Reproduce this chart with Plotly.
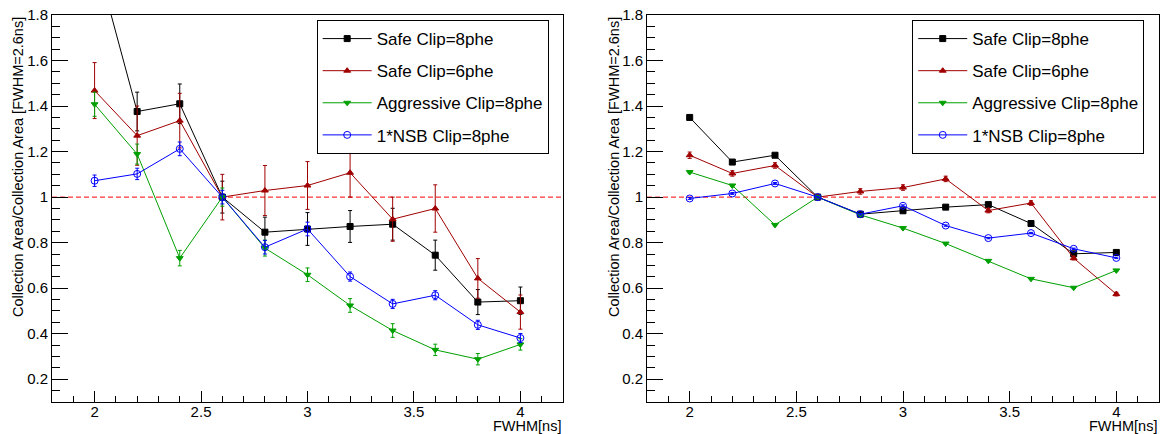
import plotly.graph_objects as go

fwhm = [2.0, 2.2, 2.4, 2.6, 2.8, 3.0, 3.2, 3.4, 3.6, 3.8, 4.0]
names = ["Safe Clip=8phe", "Safe Clip=6phe", "Aggressive Clip=8phe", "1*NSB Clip=8phe"]

# Left panel
left_safe8 = [2.07, 1.376, 1.41, 1.0, 0.846, 0.86, 0.871, 0.881, 0.745, 0.539, 0.545]
left_safe8_err = [0.10, 0.085, 0.087, 0.07, 0.066, 0.072, 0.07, 0.07, 0.066, 0.055, 0.06]
left_safe6 = [1.468, 1.27, 1.336, 1.0, 1.029, 1.051, 1.107, 0.903, 0.95, 0.643, 0.495]
left_safe6_err = [0.123, 0.13, 0.12, 0.10, 0.11, 0.105, 0.107, 0.097, 0.104, 0.087, 0.075]
left_aggr8 = [1.408, 1.189, 0.732, 1.0, 0.776, 0.659, 0.524, 0.414, 0.329, 0.288, 0.353]
left_aggr8_err = [0.053, 0.044, 0.034, 0.04, 0.035, 0.03, 0.03, 0.03, 0.025, 0.025, 0.025]
left_nsb8 = [1.072, 1.102, 1.212, 1.0, 0.78, 0.86, 0.651, 0.531, 0.569, 0.439, 0.381]
left_nsb8_err = [0.025, 0.025, 0.03, 0.03, 0.03, 0.03, 0.02, 0.02, 0.02, 0.02, 0.02]

# Right panel
right_safe8 = [1.35, 1.154, 1.184, 1.0, 0.925, 0.94, 0.956, 0.967, 0.884, 0.751, 0.757]
right_safe8_err = [0.008, 0.006, 0.006, 0.005, 0.005, 0.005, 0.005, 0.005, 0.005, 0.005, 0.005]
right_safe6 = [1.184, 1.104, 1.139, 1.0, 1.025, 1.042, 1.08, 0.941, 0.974, 0.732, 0.574]
right_safe6_err = [0.014, 0.012, 0.012, 0.01, 0.012, 0.012, 0.012, 0.01, 0.01, 0.008, 0.008]
right_aggr8 = [1.11, 1.051, 0.878, 1.0, 0.922, 0.864, 0.796, 0.72, 0.641, 0.602, 0.678]
right_aggr8_err = [0.005, 0.005, 0.004, 0.004, 0.004, 0.004, 0.004, 0.003, 0.003, 0.003, 0.003]
right_nsb8 = [0.994, 1.016, 1.06, 1.0, 0.925, 0.962, 0.875, 0.82, 0.842, 0.773, 0.733]
right_nsb8_err = [0.004, 0.004, 0.004, 0.004, 0.004, 0.004, 0.003, 0.003, 0.003, 0.003, 0.003]

colors = ["#000000", "#a00000", "#00a000", "#0000ff"]
symbols = ["square", "triangle-up", "triangle-down", "circle-open"]
msizes = [6, 6, 6, 7]

FONT = "Liberation Sans, Arial, Helvetica, sans-serif"

fig = go.Figure()

left_sets = [(left_safe8, left_safe8_err), (left_safe6, left_safe6_err),
             (left_aggr8, left_aggr8_err), (left_nsb8, left_nsb8_err)]
right_sets = [(right_safe8, right_safe8_err), (right_safe6, right_safe6_err),
              (right_aggr8, right_aggr8_err), (right_nsb8, right_nsb8_err)]

for panel, sets, xa, ya, leg in [(0, left_sets, "x", "y", "legend"),
                                 (1, right_sets, "x2", "y2", "legend2")]:
    for i, (vals, errs) in enumerate(sets):
        fig.add_trace(go.Scatter(
            x=fwhm, y=vals, name=names[i], mode="lines+markers",
            xaxis=xa, yaxis=ya, legend=leg, legendgroup=f"{panel}{i}",
            line=dict(color=colors[i], width=1),
            marker=dict(symbol=symbols[i], size=msizes[i], color=colors[i],
                        line=dict(color=colors[i], width=1)),
            error_y=dict(type="data", array=errs, color=colors[i],
                         thickness=1, width=2),
            cliponaxis=True,
        ))

tickfont = dict(family=FONT, size=15, color="black")

def xaxis_cfg(domain, anchor):
    return dict(domain=domain, anchor=anchor, range=[1.8, 4.2],
                tickmode="array", tickvals=[2, 2.5, 3, 3.5, 4],
                ticktext=["2", "2.5", "3", "3.5", "4"],
                ticks="inside", ticklen=11, tickcolor="black", tickwidth=1,
                ticklabelstandoff=-4,
                minor=dict(dtick=0.1, tick0=0, ticks="inside", ticklen=6,
                           tickcolor="black", tickwidth=1, showgrid=False),
                showline=True, linecolor="black", linewidth=1, mirror=True,
                showgrid=False, zeroline=False, tickfont=tickfont)

def yaxis_cfg(anchor):
    return dict(domain=[0, 1], anchor=anchor, range=[0.1, 1.8],
                tickmode="array", tickvals=[0.2, 0.4, 0.6, 0.8, 1.0, 1.2, 1.4, 1.6, 1.8],
                ticktext=["0.2", "0.4", "0.6", "0.8", "1", "1.2", "1.4", "1.6", "1.8"],
                ticks="inside", ticklen=16, tickcolor="black", tickwidth=1,
                minor=dict(dtick=0.05, tick0=0, ticks="inside", ticklen=8,
                           tickcolor="black", tickwidth=1, showgrid=False),
                showline=True, linecolor="black", linewidth=1, mirror=True,
                showgrid=False, zeroline=False, tickfont=tickfont)

legend_common = dict(xanchor="left", yanchor="top", bgcolor="white",
                     bordercolor="black", borderwidth=1,
                     font=dict(family=FONT, size=17, color="black"),
                     tracegroupgap=7, itemwidth=49)

fig.update_layout(
    width=1161, height=434,
    margin=dict(l=52, r=2, t=15, b=32),
    paper_bgcolor="white", plot_bgcolor="white",
    font=dict(family=FONT, color="black"),
    xaxis=xaxis_cfg([0, 0.4616], "y"),
    yaxis=yaxis_cfg("x"),
    xaxis2=xaxis_cfg([0.5375, 1.0], "y2"),
    yaxis2=yaxis_cfg("x2"),
    legend=dict(x=0.2391, y=0.987, **legend_common),
    legend2=dict(x=0.7771, y=0.987, **legend_common),
    shapes=[
        dict(type="line", xref="x domain", yref="y", x0=0, x1=1, y0=1, y1=1,
             line=dict(color="#ff0000", width=1, dash="5px,3px"), layer="below"),
        dict(type="line", xref="x2 domain", yref="y2", x0=0, x1=1, y0=1, y1=1,
             line=dict(color="#ff0000", width=1, dash="5px,3px"), layer="below"),
    ],
    annotations=[
        dict(text="Collection Area/Collection Area [FWHM=2.6ns]", xref="paper", yref="paper",
             x=-0.0307, y=1.0, xanchor="center", yanchor="top", textangle=-90,
             showarrow=False, font=dict(family=FONT, size=14.5, color="black")),
        dict(text="Collection Area/Collection Area [FWHM=2.6ns]", xref="paper", yref="paper",
             x=0.5077, y=1.0, xanchor="center", yanchor="top", textangle=-90,
             showarrow=False, font=dict(family=FONT, size=14.5, color="black")),
        dict(text="FWHM[ns]", xref="paper", yref="paper", x=0.4616, y=-0.062,
             xanchor="right", yanchor="middle", showarrow=False,
             font=dict(family=FONT, size=14.5, color="black")),
        dict(text="FWHM[ns]", xref="paper", yref="paper", x=1.0, y=-0.062,
             xanchor="right", yanchor="middle", showarrow=False,
             font=dict(family=FONT, size=14.5, color="black")),
    ],
)

fig.write_html("out.html", config={"displayModeBar": False},
               post_script="document.body.style.margin='0';document.body.style.overflow='hidden';")
